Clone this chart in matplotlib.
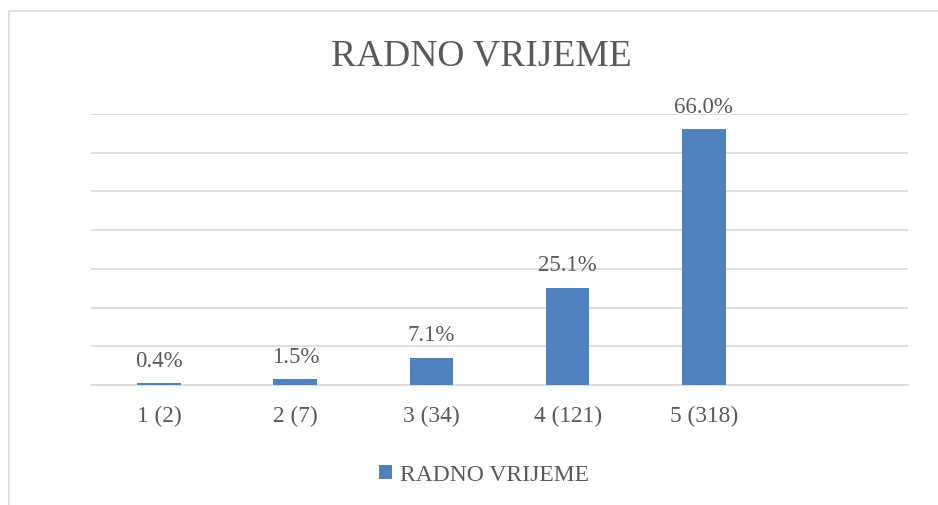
import matplotlib
matplotlib.use("Agg")
import matplotlib.pyplot as plt
from matplotlib.patches import Rectangle

categories = ["1 (2)", "2 (7)", "3 (34)", "4 (121)", "5 (318)", ""]
values = [0.4, 1.5, 7.1, 25.1, 66.0, None]
labels = ["0.4%", "1.5%", "7.1%", "25.1%", "66.0%"]
series_name = "RADNO VRIJEME"
title = "RADNO VRIJEME"

plt.rcParams['font.family'] = ['Liberation Serif', 'DejaVu Serif']
text_color = "#595959"
bar_color = "#4F81BD"
grid_color = "#D9D9D9"

fig = plt.figure(figsize=(9.38, 5.06), dpi=100)
W, H = 938, 506
ax = fig.add_axes([91 / W, 120 / H, (908 - 91) / W, (386 - 115) / H])

xs = list(range(len(categories)))
bar_x = [x for x, v in zip(xs, values) if v is not None]
bar_v = [v for v in values if v is not None]
bars = ax.bar(bar_x, bar_v, width=0.32, color=bar_color, label=series_name, zorder=3)

for b, lab in zip(bars, labels):
    ax.annotate(lab, (b.get_x() + b.get_width() / 2, b.get_height()),
                xytext=(0, 9), textcoords="offset points",
                ha="center", va="bottom", fontsize=16.5, color=text_color)

ax.set_xlim(-0.5, len(categories) - 0.5)
ax.set_ylim(0, 70)
ax.set_yticks(range(0, 71, 10))
ax.yaxis.grid(True, color=grid_color, linewidth=1.2, zorder=0)
ax.set_yticklabels([])
ax.tick_params(axis='y', length=0)
ax.set_xticks(xs)
ax.set_xticklabels(categories, fontsize=16.8, color=text_color)
ax.tick_params(axis='x', length=0, pad=14)
for s in ["top", "right", "left"]:
    ax.spines[s].set_visible(False)
ax.spines["bottom"].set_color(grid_color)
ax.spines["bottom"].set_linewidth(1.2)

fig.text(481 / W, 1 - 66 / H, title, ha="center", va="baseline",
         fontsize=27, color=text_color)

leg = fig.legend(loc="center", bbox_to_anchor=(484 / W, 1 - 476 / H),
                 frameon=False, fontsize=17, handlelength=0.55, handleheight=0.55,
                 handletextpad=0.3, labelcolor=text_color)

fig.patches.append(Rectangle((8.5 / W, -0.1), 1.2, 1 - 11.5 / H + 0.1,
                             transform=fig.transFigure, fill=False,
                             edgecolor="#D9D9D9", linewidth=1.2))

fig.savefig("out.png", dpi=100)
